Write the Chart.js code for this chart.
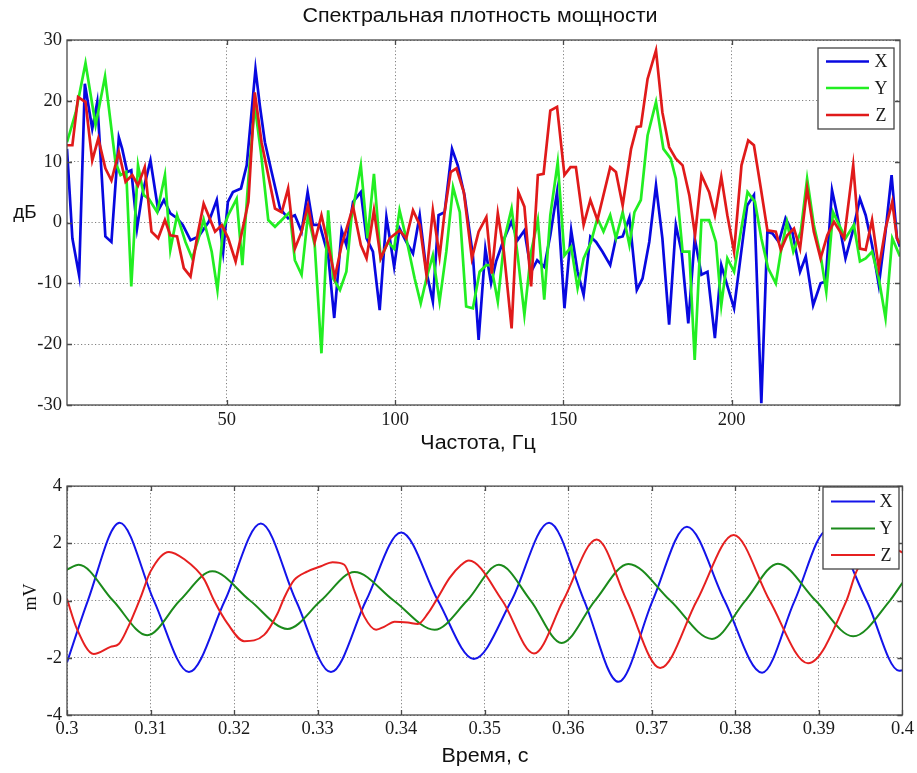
<!DOCTYPE html>
<html>
<head>
<meta charset="utf-8">
<script src="https://cdn.jsdelivr.net/npm/chart.js@4.4.1/dist/chart.umd.min.js"></script>
<style>
  html, body { margin: 0; padding: 0; background: #ffffff; }
  #wrap { position: relative; width: 917px; height: 773px; overflow: hidden; }
  #psd { position: absolute; left: 0; top: 0; }
  #sig { position: absolute; left: 0; top: 470px; }
</style>
</head>
<body>
<div id="wrap">
  <canvas id="psd" width="917" height="470"></canvas>
  <canvas id="sig" width="917" height="303"></canvas>
</div>
<script>
// ---------- Power spectral density, dB vs frequency (Hz) ----------
const psdFreqX = [2.5,4.1,6.1,7.8,10.0,11.5,13.9,15.7,17.9,18.9,20.4,21.6,23.3,24.8,27.3,29.6,31.3,33.2,35.2,36.9,39.2,41.6,44.6,47.0,48.9,50.3,51.8,54.2,55.9,58.5,59.8,61.3,63.3,65.8,68.2,70.2,72.2,74.0,75.6,77.6,80.1,81.9,84.1,85.5,87.5,89.8,91.5,93.4,95.4,97.4,98.4,99.7,101.3,103.3,105.3,107.3,109.3,111.2,112.9,114.7,116.9,118.6,120.6,123.1,124.8,126.8,128.5,130.0,132.0,134.5,136.4,138.4,140.4,142.2,144.3,146.1,148.1,150.3,152.3,154.2,156.0,158.0,159.7,161.6,163.9,165.6,167.6,169.6,171.8,173.5,175.5,177.5,179.4,181.4,183.4,185.1,187.1,189.0,191.0,192.8,195.0,196.9,198.9,200.7,202.7,204.6,206.6,208.8,210.6,212.1,214.0,216.0,218.0,220.3,222.0,224.2,226.4,227.9,229.8,231.8,233.8,235.8,238.1,239.8,241.7,243.7,245.7,247.5,249.1,250.0];
const psdDbX   = [12.1,-2.6,-8.7,22.8,15.4,19.8,-2.3,-3.2,14.0,12.1,8.3,8.6,-1.0,4.5,10.2,2.0,3.7,1.5,0.7,-0.4,-2.9,-2.3,0.1,3.7,-4.8,3.4,5.0,5.6,9.4,25.2,19.2,13.2,8.3,2.3,0.7,1.2,-1.5,5.0,-0.4,-0.4,-5.4,-15.7,-1.3,-3.7,3.4,5.0,-2.6,-4.8,-14.4,0.9,-2.6,-7.3,-1.0,-3.2,-5.1,1.2,-8.1,-13.0,1.2,1.7,12.1,9.4,4.5,-5.4,-19.3,-4.3,-10.0,-6.4,-3.2,0.1,-2.9,-1.3,-8.1,-6.2,-7.3,-2.1,5.0,-14.1,-1.3,-8.1,-11.9,-2.3,-3.2,-4.8,-7.0,-2.6,-2.3,0.8,-11.1,-9.2,-3.2,6.1,-2.6,-16.8,-0.4,-4.8,-16.6,-2.6,-8.6,-8.1,-19.0,-7.0,-10.8,-14.1,-5.4,2.8,4.5,-29.7,-1.5,-1.8,-3.2,0.7,-1.5,-8.1,-5.6,-13.6,-10.0,-9.7,5.3,0.1,-5.9,-1.8,3.9,1.2,-3.7,-10.3,-1.5,7.8,-2.6,-4.0];

const psdFreqY = [2.5,5.1,8.0,11.0,13.8,16.9,18.4,20.1,21.6,23.6,25.3,26.8,29.3,31.6,33.2,35.2,37.7,39.7,41.6,43.1,45.5,47.2,48.9,50.4,52.9,54.6,56.4,58.3,60.1,62.3,64.3,67.2,68.7,70.2,72.2,74.1,76.1,78.1,80.1,81.6,83.6,85.5,87.0,89.8,91.8,93.7,95.7,97.9,99.7,101.3,103.3,105.8,107.6,109.3,111.2,113.2,115.2,117.2,119.2,121.1,123.1,125.1,127.1,128.5,130.5,132.5,134.6,136.4,138.4,140.4,142.4,144.3,146.1,148.3,150.3,152.3,154.2,156.0,158.2,160.1,161.9,163.9,165.6,167.6,169.6,171.1,173.0,175.0,177.5,179.7,181.9,183.4,185.4,187.4,189.0,191.0,193.3,195.3,196.9,198.7,200.7,202.7,204.7,206.9,208.8,210.8,213.1,214.6,216.4,218.3,220.5,222.4,224.4,226.4,228.1,230.1,231.9,233.8,236.3,238.1,239.8,241.7,243.7,245.7,247.7,250.0];
const psdDbY   = [13.2,18.1,26.2,16.0,24.0,9.9,7.8,8.3,-10.5,9.4,4.5,3.9,1.7,7.8,-4.5,1.2,-3.2,-5.9,-2.6,0.5,-4.8,-11.1,-1.0,1.2,3.9,-7.0,7.2,19.2,11.6,0.4,-0.7,0.9,1.7,-6.2,-8.6,1.2,-3.7,-21.5,2.0,-9.2,-11.1,-8.1,0.7,9.4,-2.6,8.0,-5.9,-3.2,-4.3,2.0,-2.6,-9.2,-13.3,-9.2,-5.4,-13.0,-4.8,5.8,1.7,-13.8,-14.1,-8.1,-7.0,-7.0,-13.0,-2.6,2.3,-5.4,-15.2,-4.8,0.4,-12.7,1.2,9.9,-5.4,-4.0,-10.8,-5.9,-3.2,0.7,-1.5,1.2,-2.6,1.7,-3.7,1.7,3.7,14.3,19.8,12.1,10.5,7.2,-4.8,-4.8,-22.6,0.4,0.4,-3.2,-13.6,-5.9,-8.1,-1.5,5.0,3.4,-2.6,-7.5,-10.0,-4.8,0.1,-4.8,-1.5,7.2,-0.4,-5.4,-11.4,1.7,-0.4,-2.6,-0.4,-6.4,-5.9,-4.8,-9.2,-15.7,-2.6,-5.6];

const psdFreqZ = [2.5,4.1,5.8,8.0,10.0,11.8,13.9,15.7,17.9,19.9,21.9,23.6,25.6,27.6,29.6,31.6,33.2,35.2,37.2,39.2,41.1,43.1,46.5,48.5,50.4,52.6,56.4,58.3,60.3,64.3,66.3,68.2,70.2,72.2,74.1,76.1,78.1,80.1,82.1,84.1,86.5,87.5,89.8,91.5,93.7,95.7,98.4,101.3,103.3,105.3,107.3,109.3,111.2,113.2,114.7,116.5,118.2,120.4,122.8,124.8,127.1,128.7,130.5,132.3,134.6,136.6,138.4,140.4,142.4,144.1,146.1,148.1,150.3,152.1,153.7,156.0,158.0,160.1,163.9,165.6,167.6,170.1,171.8,173.0,175.0,177.5,179.4,181.4,183.4,185.4,187.4,189.1,191.0,193.3,195.0,196.9,198.7,200.7,202.9,204.9,206.6,208.6,210.6,213.1,214.6,216.5,218.5,220.3,222.4,224.4,226.4,228.4,230.4,233.4,236.1,238.1,239.8,241.7,243.7,245.7,247.7,249.1,250.0];
const psdDbZ   = [12.7,12.7,20.6,19.8,10.2,13.8,8.9,6.9,11.6,6.7,7.8,6.1,9.1,-1.5,-2.6,0.4,-2.1,-2.3,-7.5,-8.9,-2.6,3.1,-1.5,-0.4,-2.6,-6.4,3.4,21.4,13.2,2.3,1.7,5.6,-4.3,-1.5,2.8,-3.2,1.2,-3.7,-9.0,-3.7,0.7,2.6,-3.7,-5.9,2.0,-5.9,-2.6,-1.3,-2.6,2.0,-0.4,-8.6,2.0,-5.6,1.7,8.3,8.9,5.0,-5.9,-1.5,0.9,-8.4,1.5,-4.8,-17.4,5.0,2.6,-10.5,7.8,8.0,18.4,19.0,7.8,9.1,9.1,-0.4,3.7,0.4,9.1,8.3,2.8,12.1,15.7,15.8,23.6,28.3,18.1,12.4,10.5,9.4,4.5,-2.1,7.8,5.0,1.2,7.5,1.2,-4.8,9.4,13.5,12.7,5.8,-1.3,-1.5,-4.5,-2.1,-1.0,-4.3,5.6,-1.5,-5.9,-2.1,0.1,-2.6,9.4,-4.3,-4.5,0.4,-7.5,-1.0,3.4,-2.6,-3.5];

const psdTicksX = [50, 100, 150, 200];
const psdTicksY = [-30, -20, -10, 0, 10, 20, 30];

// ---------- Time signals, mV vs time (s) ----------
const timeX = [0.3000,0.3025,0.3063,0.3104,0.3146,0.3189,0.3232,0.3274,0.3316,0.3358,0.3400,0.3444,0.3487,0.3532,0.3577,0.3619,0.3660,0.3701,0.3742,0.3787,0.3832,0.3871,0.3910,0.3957,0.3996,0.4000];
const mvX   = [-2.16,0.0,2.72,0.0,-2.50,0.0,2.69,0.0,-2.50,0.0,2.38,0.0,-2.04,0.0,2.72,0.0,-2.84,0.0,2.58,0.0,-2.52,0.0,2.45,0.0,-2.45,-2.44];

const timeY = [0.3000,0.3014,0.3055,0.3096,0.3135,0.3174,0.3219,0.3264,0.3304,0.3344,0.3391,0.3440,0.3479,0.3517,0.3555,0.3592,0.3632,0.3672,0.3722,0.3772,0.3812,0.3851,0.3896,0.3941,0.3985,0.4000];
const mvY   = [1.08,1.25,0.0,-1.21,0.0,1.02,0.0,-0.99,0.0,1.00,0.0,-1.02,0.0,1.25,0.0,-1.48,0.0,1.28,0.0,-1.34,0.0,1.29,0.0,-1.25,0.0,0.62];

const timeZ = [0.3000,0.3012,0.3032,0.3052,0.3062,0.3072,0.3088,0.3100,0.3122,0.3140,0.3164,0.3176,0.3192,0.3212,0.3236,0.3252,0.3260,0.3272,0.3288,0.3304,0.3318,0.3332,0.3344,0.3356,0.3370,0.3380,0.3392,0.3408,0.3420,0.3432,0.3444,0.3458,0.3472,0.3481,0.3521,0.3559,0.3594,0.3634,0.3670,0.3710,0.3754,0.3798,0.3841,0.3887,0.3933,0.3945,0.3972,0.4000];
const mvZ   = [0.05,-1.0,-1.87,-1.62,-1.52,-1.0,0.1,1.02,1.70,1.45,0.75,0.0,-0.8,-1.42,-1.2,-0.45,0.1,0.72,1.02,1.2,1.34,1.25,0.34,-0.57,-1.02,-0.91,-0.74,-0.77,-0.82,-0.45,0.11,0.79,1.25,1.40,0.0,-1.85,0.0,2.13,0.0,-2.36,0.0,2.29,0.0,-2.19,0.0,1.02,2.05,1.68];

const sigTicksX = [0.3,0.31,0.32,0.33,0.34,0.35,0.36,0.37,0.38,0.39,0.4];
const sigTicksY = [-4, -2, 0, 2, 4];

const seriesNames = ['X', 'Y', 'Z'];

// ---------- helpers ----------
const pairs = (xs, ys) => xs.map((x, i) => ({ x: x, y: ys[i] }));
const SERIF = '"Liberation Serif", "DejaVu Serif", serif';
const SANS  = '"Liberation Sans", Arial, sans-serif';

// plot frame with inward tick marks on all four sides
const frameTicks = {
  id: 'frameTicks',
  afterDatasetsDraw(chart, args, o) {
    const { ctx, chartArea: a, scales } = chart;
    ctx.save();
    ctx.strokeStyle = o.color;
    ctx.lineWidth = o.width;
    ctx.beginPath();
    scales.x.ticks.forEach(t => {
      const p = Math.round(scales.x.getPixelForValue(t.value)) + 0.5;
      ctx.moveTo(p, a.bottom); ctx.lineTo(p, a.bottom - o.len);
      ctx.moveTo(p, a.top);    ctx.lineTo(p, a.top + o.len);
    });
    scales.y.ticks.forEach(t => {
      const p = Math.round(scales.y.getPixelForValue(t.value)) + 0.5;
      ctx.moveTo(a.left, p);  ctx.lineTo(a.left + o.len, p);
      ctx.moveTo(a.right, p); ctx.lineTo(a.right - o.len, p);
    });
    ctx.stroke();
    ctx.strokeRect(a.left, a.top, a.right - a.left, a.bottom - a.top);
    ctx.restore();
  }
};

// boxed legend placed inside the plot
const boxLegend = {
  id: 'boxLegend',
  afterDraw(chart, args, o) {
    const ctx = chart.ctx;
    ctx.save();
    ctx.fillStyle = '#ffffff';
    ctx.fillRect(o.x, o.y, o.w, o.h);
    ctx.strokeStyle = o.border;
    ctx.lineWidth = 1.3;
    ctx.strokeRect(o.x, o.y, o.w, o.h);
    ctx.font = o.font;
    ctx.textAlign = 'center';
    ctx.textBaseline = 'middle';
    chart.data.datasets.forEach((ds, i) => {
      const y = o.y + o.rows[i];
      ctx.strokeStyle = ds.borderColor;
      ctx.lineWidth = ds.borderWidth;
      ctx.beginPath();
      ctx.moveTo(o.x + o.line[0], y);
      ctx.lineTo(o.x + o.line[1], y);
      ctx.stroke();
      ctx.fillStyle = '#1a1a1a';
      ctx.fillText(ds.label, o.x + o.textX, y + 1);
    });
    ctx.restore();
  }
};

// free text: title and axis names (slightly widened lettering)
const freeText = {
  id: 'freeText',
  afterDraw(chart, args, o) {
    const ctx = chart.ctx;
    o.items.forEach(it => {
      ctx.save();
      ctx.font = it.font;
      ctx.fillStyle = '#111111';
      ctx.textAlign = 'center';
      ctx.textBaseline = 'middle';
      ctx.translate(it.x, it.y);
      if (it.rot) ctx.rotate(it.rot);
      ctx.scale(it.sx || 1, 1);
      ctx.fillText(it.text, 0, 0);
      ctx.restore();
    });
  }
};

const gridCommon = { color: '#808080', lineWidth: 1, drawTicks: false };
const borderCommon = { display: false, dash: [1.2, 2.3] };
const tickFont = { family: SERIF, size: 18.5 };

// ---------- spectrum chart ----------
const psdColors = ['#0808e0', '#22ee22', '#e01a1a'];
const psdData = [[psdFreqX, psdDbX], [psdFreqY, psdDbY], [psdFreqZ, psdDbZ]];

new Chart(document.getElementById('psd'), {
  type: 'line',
  data: {
    datasets: psdData.map((d, i) => ({
      label: seriesNames[i],
      data: pairs(d[0], d[1]),
      borderColor: psdColors[i],
      borderWidth: 2.7,
      pointRadius: 0,
      tension: 0,
      fill: false,
      order: 3 - i
    }))
  },
  options: {
    responsive: false,
    animation: false,
    events: [],
    layout: { padding: { top: 40, left: 0, right: 17, bottom: 0 } },
    plugins: {
      legend: { display: false },
      tooltip: { enabled: false },
      frameTicks: { color: '#4a4a4a', width: 1.3, len: 5 },
      boxLegend: { x: 818, y: 48, w: 76, h: 81, rows: [13.5, 40, 67], line: [8, 51], textX: 63, font: '18px ' + SERIF, border: '#444444' },
      freeText: { items: [
        { text: 'Спектральная плотность мощности', x: 480, y: 17, font: '19.5px ' + SANS, sx: 1.1 },
        { text: 'дБ', x: 25, y: 213, font: '18px ' + SANS, sx: 1.05 },
        { text: 'Частота, Гц', x: 478, y: 444, font: '19.5px ' + SANS, sx: 1.1 }
      ] }
    },
    scales: {
      x: {
        type: 'linear', min: 2.5, max: 250,
        afterBuildTicks: s => { s.ticks = psdTicksX.map(v => ({ value: v })); },
        afterFit: s => { s.height = 65; },
        ticks: { font: tickFont, color: '#1a1a1a', padding: 4, maxRotation: 0 },
        grid: gridCommon, border: borderCommon
      },
      y: {
        type: 'linear', min: -30, max: 30,
        afterBuildTicks: s => { s.ticks = psdTicksY.map(v => ({ value: v })); },
        afterFit: s => { s.width = 67; },
        ticks: { font: tickFont, color: '#1a1a1a', padding: 5 },
        grid: gridCommon, border: borderCommon
      }
    }
  },
  plugins: [frameTicks, boxLegend, freeText]
});

// ---------- time-domain chart ----------
const sigColors = ['#1414ea', '#1b8a1b', '#e62020'];
const sigData = [[timeX, mvX], [timeY, mvY], [timeZ, mvZ]];

new Chart(document.getElementById('sig'), {
  type: 'line',
  data: {
    datasets: sigData.map((d, i) => ({
      label: seriesNames[i],
      data: pairs(d[0], d[1]),
      borderColor: sigColors[i],
      borderWidth: 2,
      pointRadius: 0,
      cubicInterpolationMode: 'monotone',
      fill: false,
      order: 3 - i
    }))
  },
  options: {
    responsive: false,
    animation: false,
    events: [],
    layout: { padding: { top: 10, left: 0, right: 14, bottom: 0 } },
    plugins: {
      legend: { display: false },
      tooltip: { enabled: false },
      frameTicks: { color: '#4a4a4a', width: 1.3, len: 5 },
      boxLegend: { x: 823, y: 17, w: 76, h: 82, rows: [14.5, 41.5, 68], line: [8, 52], textX: 63, font: '18px ' + SERIF, border: '#444444' },
      freeText: { items: [
        { text: 'mV', x: 31, y: 127, font: '18px ' + SERIF, rot: -Math.PI / 2 },
        { text: 'Время, с', x: 485, y: 287, font: '19.5px ' + SANS, sx: 1.1 }
      ] }
    },
    scales: {
      x: {
        type: 'linear', min: 0.3, max: 0.4,
        afterBuildTicks: s => { s.ticks = sigTicksX.map(v => ({ value: v })); },
        afterFit: s => { s.height = 58; },
        ticks: { font: tickFont, color: '#1a1a1a', padding: 3, maxRotation: 0,
                 callback: v => String(+v.toFixed(2)) },
        grid: gridCommon, border: borderCommon
      },
      y: {
        type: 'linear', min: -4, max: 4,
        afterBuildTicks: s => { s.ticks = sigTicksY.map(v => ({ value: v })); },
        afterFit: s => { s.width = 67; },
        ticks: { font: tickFont, color: '#1a1a1a', padding: 5 },
        grid: gridCommon, border: borderCommon
      }
    }
  },
  plugins: [frameTicks, boxLegend, freeText]
});
</script>
</body>
</html>
